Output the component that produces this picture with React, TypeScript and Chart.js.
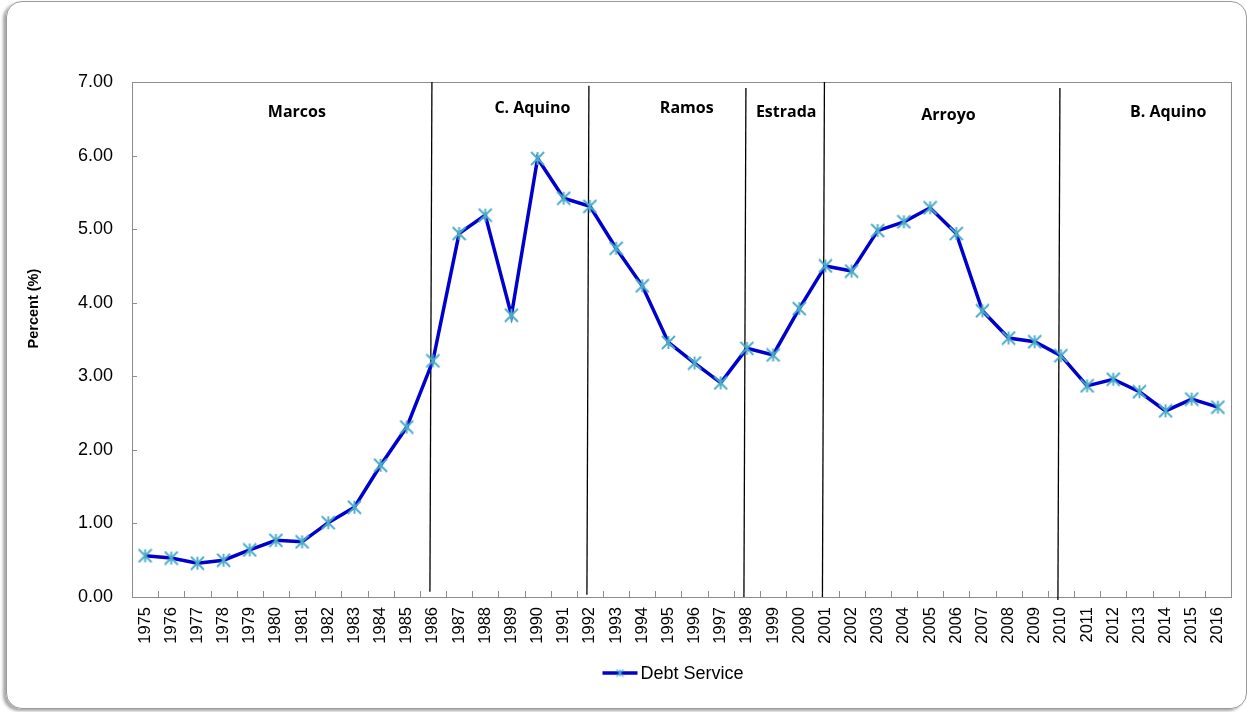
import React, { useEffect, useRef } from "react";
import { Chart, registerables } from "chart.js";

Chart.register(...registerables);

const years: string[] = [
  "1975","1976","1977","1978","1979","1980","1981","1982","1983","1984","1985",
  "1986","1987","1988","1989","1990","1991","1992","1993","1994","1995","1996",
  "1997","1998","1999","2000","2001","2002","2003","2004","2005","2006","2007",
  "2008","2009","2010","2011","2012","2013","2014","2015","2016",
];

const debtService: number[] = [
  0.56, 0.53, 0.46, 0.50, 0.64, 0.77, 0.75, 1.01, 1.22, 1.79, 2.31,
  3.21, 4.94, 5.19, 3.83, 5.96, 5.42, 5.31, 4.74, 4.23, 3.46, 3.18,
  2.91, 3.38, 3.29, 3.92, 4.50, 4.43, 4.98, 5.10, 5.29, 4.94, 3.89,
  3.52, 3.47, 3.28, 2.87, 2.96, 2.79, 2.53, 2.69, 2.58,
];

const yTicks: number[] = [0, 1, 2, 3, 4, 5, 6, 7];

// administrations: divider years and label positions (in year units / percent units)
const dividerYears: string[] = ["1986", "1992", "1998", "2001", "2010"];
const dividerTop: number[] = [7.0, 6.95, 6.92, 7.0, 6.92];
const dividerBottom: number[] = [0.07, 0.03, 0.0, 0.0, -0.04];

const presidentNames: string[] = ["Marcos", "C. Aquino", "Ramos", "Estrada", "Arroyo", "B. Aquino"];
const presidentLabelYear: number[] = [1980.8, 1989.8, 1995.7, 1999.5, 2005.7, 2014.1];
const presidentLabelValue: number[] = [6.52, 6.575, 6.58, 6.53, 6.49, 6.52];

const yTitle = "Percent (%)";
const seriesName = "Debt Service";

const LINE_COLOR = "#0000CC";
const MARKER_COLOR = "#4BACC6";
const AXIS_COLOR = "#8C8C8C";

function makeStar(size: number, lw: number): HTMLCanvasElement {
  const c = document.createElement("canvas");
  c.width = size;
  c.height = size;
  const ctx = c.getContext("2d")!;
  const m = size / 2;
  const r = size / 2 - 1;
  ctx.strokeStyle = MARKER_COLOR;
  ctx.lineWidth = lw;
  ctx.lineCap = "butt";
  ctx.beginPath();
  ctx.moveTo(m - r, m - r);
  ctx.lineTo(m + r, m + r);
  ctx.moveTo(m + r, m - r);
  ctx.lineTo(m - r, m + r);
  ctx.moveTo(m, m - r);
  ctx.lineTo(m, m + r);
  ctx.stroke();
  return c;
}

export default function App() {
  const canvasRef = useRef<HTMLCanvasElement | null>(null);

  useEffect(() => {
    const canvas = canvasRef.current;
    if (!canvas) return;
    const star = makeStar(15, 1.9);
    const smallStar = makeStar(9, 1.1);

    const decorPlugin = {
      id: "decor",
      beforeDatasetsDraw(chart: any) {
        const { ctx, chartArea: a, scales } = chart;
        const x = scales.x;
        const y = scales.y;
        ctx.save();
        // frame
        ctx.strokeStyle = AXIS_COLOR;
        ctx.lineWidth = 1;
        ctx.strokeRect(Math.round(a.left) + 0.5, Math.round(a.top) + 0.5,
          Math.round(a.right - a.left), Math.round(a.bottom - a.top));
        // x inward ticks between categories
        const step = x.getPixelForValue(1) - x.getPixelForValue(0);
        ctx.beginPath();
        for (let i = 1; i < years.length; i++) {
          const px = Math.round(x.getPixelForValue(i) - step / 2) + 0.5;
          ctx.moveTo(px, a.bottom);
          ctx.lineTo(px, a.bottom - 6);
        }
        // y inward ticks
        for (const t of yTicks) {
          const py = Math.round(y.getPixelForValue(t)) + 0.5;
          ctx.moveTo(a.left, py);
          ctx.lineTo(a.left + 5, py);
        }
        ctx.stroke();
        // dividers
        ctx.strokeStyle = "#000000";
        ctx.lineWidth = 1.3;
        dividerYears.forEach((yr, i) => {
          const px = x.getPixelForValue(years.indexOf(yr));
          ctx.beginPath();
          ctx.moveTo(px - 1, y.getPixelForValue(dividerTop[i]));
          ctx.lineTo(px - 3, y.getPixelForValue(dividerBottom[i]));
          ctx.stroke();
        });
        // administration labels
        ctx.fillStyle = "#000000";
        ctx.font = "bold 16px 'Open Sans', sans-serif";
        ctx.textAlign = "center";
        ctx.textBaseline = "alphabetic";
        presidentNames.forEach((name, i) => {
          const px = x.getPixelForValue(presidentLabelYear[i] - Number(years[0]));
          const py = y.getPixelForValue(presidentLabelValue[i]);
          ctx.fillText(name, px, py);
        });
        // y axis title
        ctx.save();
        ctx.translate(33.5, a.top + (a.bottom - a.top) * 0.44);
        ctx.rotate(-Math.PI / 2);
        ctx.font = "bold 14.5px 'Liberation Sans', Arial, sans-serif";
        ctx.textAlign = "center";
        ctx.textBaseline = "middle";
        ctx.fillText(yTitle, 0, 0);
        ctx.restore();
        ctx.restore();
      },
      afterDraw(chart: any) {
        const { ctx } = chart;
        ctx.save();
        const cx = chart.width / 2 - 22;
        const cy = chart.height - 39;
        ctx.strokeStyle = LINE_COLOR;
        ctx.lineWidth = 3.5;
        ctx.beginPath();
        ctx.moveTo(cx, cy);
        ctx.lineTo(cx + 35, cy);
        ctx.stroke();
        ctx.drawImage(smallStar, cx + 17.5 - 4.5, cy - 4.5);
        ctx.fillStyle = "#000000";
        ctx.font = "18px 'Liberation Sans', Arial, sans-serif";
        ctx.textAlign = "left";
        ctx.textBaseline = "middle";
        ctx.fillText(seriesName, cx + 38, cy + 1);
        ctx.restore();
      },
    };

    const chart = new Chart(canvas, {
      type: "line",
      data: {
        labels: years,
        datasets: [
          {
            label: seriesName,
            data: debtService,
            borderColor: LINE_COLOR,
            backgroundColor: LINE_COLOR,
            borderWidth: 3.5,
            pointStyle: star as any,
            pointRadius: 8,
            tension: 0,
          },
        ],
      },
      options: {
        animation: false,
        responsive: false,
        maintainAspectRatio: false,
        layout: { padding: { left: 20, top: 82, right: 18, bottom: 0 } },
        plugins: {
          legend: { display: false },
          tooltip: { enabled: false },
        },
        scales: {
          x: {
            type: "category",
            offset: true,
            grid: { display: false, drawTicks: false },
            border: { display: false },
            ticks: {
              autoSkip: false,
              maxRotation: 90,
              minRotation: 90,
              padding: 10,
              color: "#000000",
              font: { family: "'Liberation Sans', Arial, sans-serif", size: 16.5 },
            },
            afterFit: (s: any) => { s.height = 115; },
          },
          y: {
            min: 0,
            max: 7,
            grid: { display: false, drawTicks: false },
            border: { display: false },
            ticks: {
              stepSize: 1,
              padding: 19,
              color: "#000000",
              font: { family: "'Liberation Sans', Arial, sans-serif", size: 18 },
              callback: (v: any) => Number(v).toFixed(2),
            },
            afterFit: (s: any) => { s.width = 112; },
          },
        },
      },
      plugins: [decorPlugin],
    });
    return () => chart.destroy();
  }, []);

  return (
    <div style={{ position: "absolute", left: 0, top: 0, width: 1249, height: 712, overflow: "hidden", background: "#ffffff" }}>
      <div
        style={{
          position: "absolute",
          left: 6,
          top: 1,
          width: 1241,
          height: 708,
          border: "1px solid #9a9a9a",
          borderRadius: 16,
          boxShadow: "-3px 2px 3px rgba(0,0,0,0.35)",
          boxSizing: "border-box",
        }}
      />
      <canvas ref={canvasRef} width={1249} height={712} style={{ position: "absolute", left: 0, top: 0, width: 1249, height: 712 }} />
    </div>
  );
}
